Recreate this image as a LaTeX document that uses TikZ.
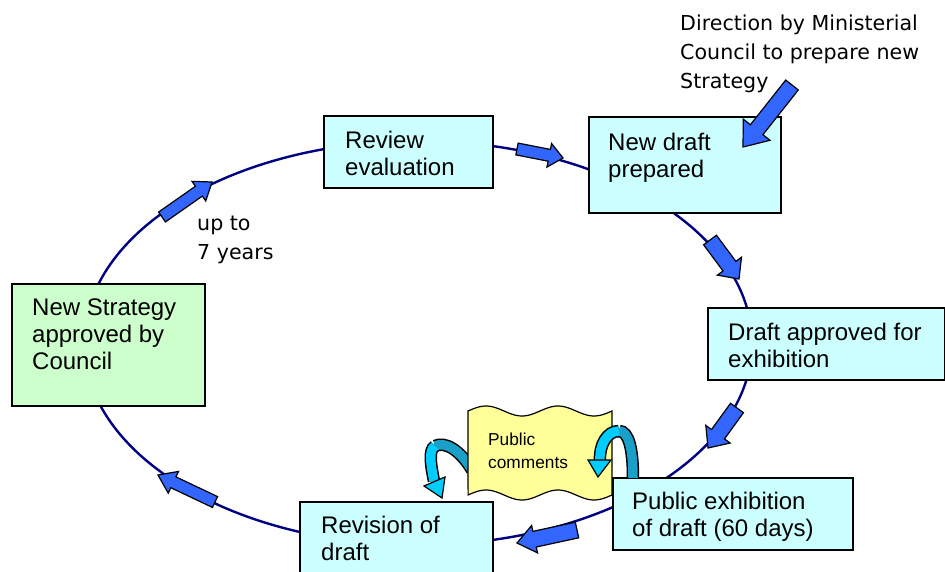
\documentclass[tikz,border=0pt]{standalone}
\usepackage{fontspec}
\setmainfont{Liberation Sans}
\newfontfamily\tahfont{DejaVu Sans}
\usetikzlibrary{calc}
\definecolor{boxcyan}{HTML}{CCFFFF}
\definecolor{boxgreen}{HTML}{CCFFCC}
\definecolor{navyline}{HTML}{000080}
\definecolor{arrowblue}{HTML}{3366FF}
\definecolor{banneryellow}{HTML}{FFFF99}
\definecolor{curldark}{HTML}{1A9FC9}
\definecolor{curllight}{HTML}{00CCFF}
\tikzset{
  cbox/.style={draw=black, line width=1.6pt, fill=boxcyan, inner sep=0pt, anchor=north west},
  gbox/.style={cbox, fill=boxgreen},
  boxtext/.style={inner sep=0pt, anchor=north west, align=left, font=\fontsize{24}{27}\selectfont},
  notetext/.style={inner sep=0pt, anchor=north west, align=left, font=\tahfont\fontsize{20.6}{28.7}\selectfont},
  blockarr/.style={fill=arrowblue, draw=black, line width=1.2pt, line join=miter},
  curlborder/.style={draw=black, line width=12.5pt, line cap=butt},
  curlback/.style={draw=curldark, line width=9.5pt, line cap=butt},
  curlfront/.style={draw=curllight, line width=9.5pt, line cap=butt},
  curlhead/.style={fill=curllight, draw=black, line width=1.2pt, line join=miter},
}
\newcommand\blockarrow[6]{%
  \coordinate (#1-t) at (#2);
  \coordinate (#1-h) at (#3);
  \coordinate (#1-c) at ($(#1-h)!#6pt!(#1-t)$);
  \filldraw[blockarr] ($(#1-t)!#4pt!90:(#1-h)$) -- ($(#1-c)!#4pt!90:(#1-h)$) -- ($(#1-c)!#5pt!90:(#1-h)$) -- (#1-h) -- ($(#1-c)!#5pt!-90:(#1-h)$) -- ($(#1-c)!#4pt!-90:(#1-h)$) -- ($(#1-t)!#4pt!-90:(#1-h)$) -- cycle;}
\begin{document}
\begin{tikzpicture}[x=1pt,y=-1pt]
\useasboundingbox (0,0) rectangle (945,572);
% cycle ellipse
\draw[navyline, line width=2.4pt] (418,343) ellipse [x radius=334, y radius=202];
% boxes
\node[cbox, minimum width=169pt, minimum height=72pt] (rev) at (323,115) {};
\node[cbox, minimum width=192pt, minimum height=96pt] (newdraft) at (588,116) {};
\node[cbox, minimum width=237pt, minimum height=72pt] (approved) at (707,307) {};
\node[cbox, minimum width=193pt, minimum height=80pt] (revision) at (299,501) {};
\node[gbox, minimum width=193pt, minimum height=122pt] (strategy) at (11,283) {};
% box texts
\node[boxtext] (revtext) at (345,130.5) {Review\\evaluation};
\node[boxtext] (newdrafttext) at (608,132.5) {New draft\\prepared};
\node[boxtext] (approvedtext) at (728,322.5) {Draft approved for\\exhibition};
\node[boxtext] (revisiontext) at (321,515.5) {Revision of\\draft};
\node[boxtext] (strategytext) at (32,298.3) {New Strategy\\approved by\\Council};
% notes
\node[notetext] (direction) at (680,15) {Direction by Ministerial\\Council to prepare new\\Strategy};
\node[notetext, anchor=south west] (years) at (197,264) {up to\\7 years};
% left curly arrow (behind banner)
\draw[curlborder] (472,470) .. controls (460,450) and (445,441) .. (435,446);
\draw[curlborder] (435,446) .. controls (428,450) and (431,466) .. (434,481);
\draw[curlback] (472,470) .. controls (460,450) and (445,441) .. (435,446);
\draw[curlfront] (435,446) .. controls (428,450) and (431,466) .. (434,481);
\filldraw[curlhead] (445,477) -- (442,498) -- (424,486) -- cycle;
% banner
\filldraw[fill=banneryellow, draw=black, line width=1.2pt]
  plot[domain=0:1, samples=60] ({468+144*\x}, {411-5*sin(720*\x)})
  -- plot[domain=1:0, samples=60] ({468+144*\x}, {495-5*sin(720*\x)}) -- cycle;
\node[inner sep=0pt, anchor=north west, align=left, font=\fontsize{17.3}{23}\selectfont] (comments) at (488,432.4) {Public\\comments};
% public exhibition box
\node[cbox, minimum width=240pt, minimum height=72pt] (exhib) at (612,477) {};
\node[boxtext] (exhibtext) at (632,491.8) {Public exhibition\\of draft (60 days)};
% right curly arrow
\draw[curlborder] (633,478) .. controls (633,450) and (629,431) .. (619,431);
\draw[curlborder] (619,431) .. controls (607,431) and (599,445) .. (600,461);
\draw[curlback] (633,478) .. controls (633,450) and (629,431) .. (619,431);
\draw[curlfront] (619,431) .. controls (607,431) and (599,445) .. (600,461);
\filldraw[curlhead] (588,460) -- (598,477) -- (611,460) -- cycle;
% block arrows
\blockarrow{a1}{162,217}{212,182}{6}{12}{16}
\blockarrow{a2}{517,149}{563,158}{6}{12}{14}
\blockarrow{a3}{792,85}{743,147}{8}{17}{22}
\blockarrow{a4}{710,240}{739,279}{8}{15}{16}
\blockarrow{a5}{737,408}{708,448}{8}{15}{17}
\blockarrow{a6}{577,530}{517,543}{8}{14}{18}
\blockarrow{a7}{215,502}{158,475}{6}{12}{17}
\end{tikzpicture}
\end{document}
